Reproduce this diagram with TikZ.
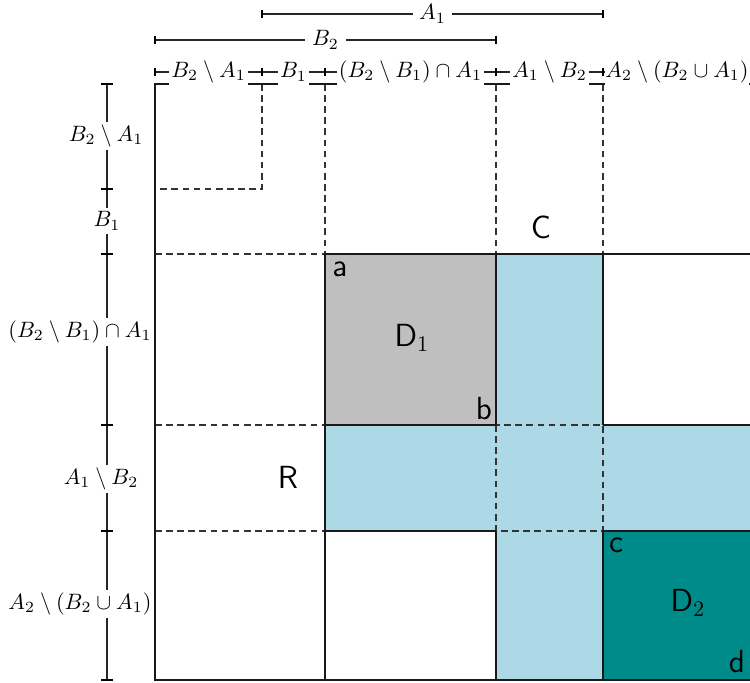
\documentclass[tikz,border=0pt]{standalone}
\definecolor{dgray}{HTML}{BFBFBF}
\definecolor{lblue}{HTML}{ADD8E6}
\definecolor{dteal}{HTML}{008B8B}
\newcommand\mytickv[1]{\draw[tickmark] ([yshift=-2pt]#1) -- ([yshift=2pt]#1);}
\newcommand\mytickh[1]{\draw[tickmark] ([xshift=-2.5pt]#1) -- ([xshift=2.5pt]#1);}
\begin{document}
\begin{tikzpicture}[x=0.45pt,y=-0.45pt,
  solidline/.style={draw=black!90, line width=0.55pt},
  dashline/.style={draw=black!80, densely dashed, line width=0.5pt},
  dim/.style={line width=0.5pt, draw=black!85},
  tickmark/.style={line width=1pt, draw=black},
  dimlabel/.style={fill=white, inner xsep=1pt, inner ysep=1.5pt},
  region/.style={font=\sffamily\Large, inner sep=0pt}]
\useasboundingbox (0,0) rectangle (750,683);
% fills
\fill[lblue] (496,254) rectangle (603,680);
\fill[lblue] (325,425) rectangle (750,531);
\fill[dgray] (325,254) rectangle (496,425);
\fill[dteal] (603,531) rectangle (750,680);
% dashed grid
\draw[dashline] (262,84) -- (262,189) -- (155,189);
\draw[dashline] (325,84) -- (325,254);
\draw[dashline] (496,84) -- (496,254);
\draw[dashline] (603,84) -- (603,254);
\draw[dashline] (155,254) -- (325,254);
\draw[dashline] (155,425) -- (325,425);
\draw[dashline] (155,531) -- (325,531);
\draw[dashline] (496,425) rectangle (603,531);
% solid lines
\draw[solidline] (755,84) -- (155,84) -- (155,680) -- (755,680);
\draw[solidline] (325,254) -- (755,254);
\draw[solidline] (325,254) -- (325,680);
\draw[solidline] (496,254) -- (496,425);
\draw[solidline] (496,531) -- (496,680);
\draw[solidline] (603,254) -- (603,425);
\draw[solidline] (603,531) -- (603,680);
\draw[solidline] (325,425) -- (496,425);
\draw[solidline] (603,425) -- (755,425);
\draw[solidline] (325,531) -- (496,531);
\draw[solidline] (603,531) -- (755,531);
% region labels
\node[region] (C) at (541,227) {C};
\node[region] (R) at (288,477) {R};
\node[region] (D1) at (412,338) {D$_1$};
\node[region] (D2) at (688,603) {D$_2$};
\node[region] (a) at (340,269) {a};
\node[region] (b) at (484,409) {b};
\node[region] (c) at (616,545) {c};
\node[region] (d) at (737,662) {d};
% top dimension lines
\coordinate (t0) at (155,72);
\coordinate (t1) at (262,72);
\coordinate (t2) at (325,72);
\coordinate (t3) at (496,72);
\coordinate (t4) at (603,72);
\coordinate (t5) at (746,72);
\draw[dim] (t0) -- node[dimlabel] (lt1) {$B_2\setminus A_1$} (t1);
\draw[dim] (t1) -- node[dimlabel] (lt2) {$B_1$} (t2);
\draw[dim] (t2) -- node[dimlabel] (lt3) {$(B_2\setminus B_1)\cap A_1$} (t3);
\draw[dim] (t3) -- node[dimlabel] (lt4) {$A_1\setminus B_2$} (t4);
\draw[dim] (t4) -- (t5);
\node[dimlabel, inner xsep=0pt] (lt5) at (677,72) {$A_2\setminus(B_2\cup A_1)$};
\foreach \p in {t0,t1,t2,t3,t4} {\mytickv{\p}}
\coordinate (b0) at (155,40);
\coordinate (b1) at (496,40);
\draw[dim] (b0) -- node[dimlabel, inner xsep=3pt] (lB2) {$B_2$} (b1);
\mytickv{b0} \mytickv{b1}
\coordinate (a0) at (262,14);
\coordinate (a1) at (603,14);
\draw[dim] (a0) -- node[dimlabel, inner xsep=3pt] (lA1) {$A_1$} (a1);
\mytickv{a0} \mytickv{a1}
% left dimension lines
\coordinate (s0) at (107,84);
\coordinate (s1) at (107,189);
\coordinate (s2) at (107,254);
\coordinate (s3) at (107,425);
\coordinate (s4) at (107,531);
\coordinate (s5) at (107,680);
\draw[dim] (s0) -- (s1);
\draw[dim] (s1) -- (s2);
\draw[dim] (s2) -- (s3);
\draw[dim] (s3) -- (s4);
\draw[dim] (s4) -- (s5);
\foreach \p in {s0,s1,s2,s3,s4,s5} {\mytickh{\p}}
\node[dimlabel] (ls1) at (106,136) {$B_2\setminus A_1$};
\node[dimlabel] (ls2) at (107,221) {$B_1$};
\node[dimlabel] (ls3) at (80,332) {$(B_2\setminus B_1)\cap A_1$};
\node[dimlabel] (ls4) at (101,479) {$A_1\setminus B_2$};
\node[dimlabel] (ls5) at (80,604) {$A_2\setminus(B_2\cup A_1)$};
\end{tikzpicture}
\end{document}
